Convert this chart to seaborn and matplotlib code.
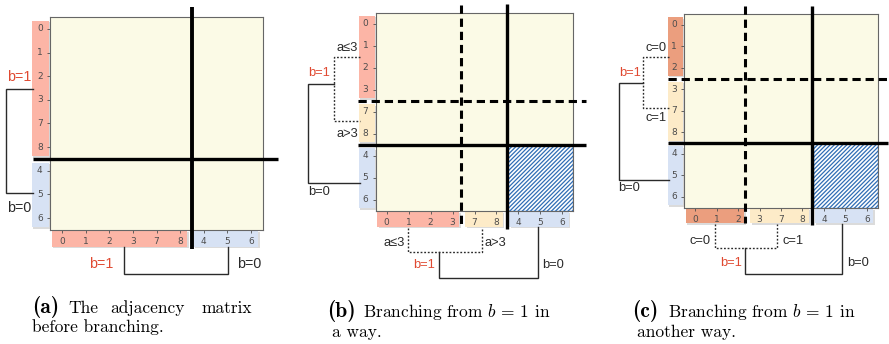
import numpy as np
import pandas as pd
import matplotlib
matplotlib.use("Agg")
import matplotlib.pyplot as plt
import matplotlib.patheffects as pe
from matplotlib.colors import ListedColormap
from matplotlib.patches import Rectangle
import seaborn as sns

plt.rcParams["mathtext.fontset"] = "cm"
plt.rcParams["hatch.linewidth"] = 0.9

# ---------------- data ----------------
node_order = ["0", "1", "2", "3", "7", "8", "4", "5", "6"]
groups_a = [6, 3]
groups_b = [4, 2, 3]
groups_c = [3, 3, 3]
colors_a = ["#fcb5a6", "#d7e2f4"]
colors_b = ["#fcb5a6", "#fdebc8", "#d7e2f4"]
colors_c = ["#eb9e7e", "#fdebc8", "#d7e2f4"]
top_labels = ["b=1", "b=0"]
sub_labels_b = ["a≤3", "a>3"]
sub_labels_c = ["c=0", "c=1"]
caption_tags = ["(a)", "(b)", "(c)"]

# ---------------- style ----------------
MAT_BG = "#fbfae6"
RED = "#e04a32"
DARK = "#2a2a2a"
TICK = "#4d4d4d"
HATCH_BLUE = "#2f6db5"
LBL_FONT = ["Liberation Sans", "DejaVu Sans"]

W, H = 889, 344
fig = plt.figure(figsize=(W / 100, H / 100), dpi=100)


def px_axes(x0, y0, x1, y1):
    return fig.add_axes([x0 / W, 1 - y1 / H, (x1 - x0) / W, (y1 - y0) / H])


def draw_matrix(ax):
    df = pd.DataFrame(np.zeros((len(node_order), len(node_order))),
                      index=node_order, columns=node_order)
    sns.heatmap(df, ax=ax, cmap=ListedColormap([MAT_BG]), vmin=0, vmax=1,
                cbar=False, xticklabels=True, yticklabels=True)
    for s in ax.spines.values():
        s.set_visible(True)
        s.set_linewidth(0.8)
        s.set_color("#666666")
    ax.tick_params(labelsize=6.5, colors=TICK, length=2.5, width=0.6, pad=2.8)
    ax.tick_params(axis="y", rotation=0)
    ax.set_xlabel("")
    ax.set_ylabel("")


def group_bars(ax, groups, colors):
    bounds = np.concatenate([[0], np.cumsum(groups)])
    shadow = [pe.SimplePatchShadow(offset=(1, -1), shadow_rgbFace="#9a9a9a", alpha=0.35),
              pe.Normal()]
    for s, e, c in zip(bounds[:-1], bounds[1:], colors):
        r = Rectangle((-0.76, s + 0.15), 0.72, (e - s) - 0.27, facecolor=c,
                      edgecolor="none", clip_on=False, zorder=0.5)
        r.set_path_effects(shadow)
        ax.add_patch(r)
        r = Rectangle((s + 0.08, 9.04), (e - s) - 0.28, 0.68, facecolor=c,
                      edgecolor="none", clip_on=False, zorder=0.5)
        r.set_path_effects(shadow)
        ax.add_patch(r)
    return bounds


def line(ax, xs, ys, lw=2.4, ls="-"):
    ax.plot(xs, ys, color="black", lw=lw, ls=ls, clip_on=False,
            solid_capstyle="butt", dash_capstyle="butt", zorder=5)


def bracket(ax, pts, dotted=False):
    xs, ys = zip(*pts)
    ax.plot(xs, ys, color=DARK, lw=1.0,
            ls=(0, (1.3, 1.3)) if dotted else "-",
            clip_on=False, solid_joinstyle="miter", zorder=4)


def label(ax, x, y, s, size, ha="left", color=DARK):
    ax.text(x, y, s, ha=ha, va="center", fontsize=size, color=color,
            family=LBL_FONT, clip_on=False)


def hatch_block(ax, start):
    n = len(node_order)
    ax.add_patch(Rectangle((start, start), n - start, n - start, facecolor="white",
                           edgecolor=HATCH_BLUE, hatch="////////", lw=1.0, zorder=3))


# ---------------- panel (a) ----------------
axA = px_axes(50, 17, 263, 230)
draw_matrix(axA)
bA = group_bars(axA, groups_a, colors_a)
line(axA, [-0.72, 9.63], [bA[1], bA[1]], lw=2.4)
line(axA, [bA[1], bA[1]], [-0.42, 9.80], lw=2.8)
bracket(axA, [(-0.7, 3.04), (-1.86, 3.04), (-1.86, 7.44), (-0.7, 7.44)])
label(axA, -1.80, 2.53, top_labels[0], 10.3, color=RED)
label(axA, -1.80, 8.07, top_labels[1], 10.3)
bracket(axA, [(3.13, 9.72), (3.13, 10.86), (7.52, 10.86), (7.52, 9.72)])
label(axA, 2.70, 10.44, top_labels[0], 10.3, ha="right", color=RED)
label(axA, 7.90, 10.44, top_labels[1], 10.3)

# ---------------- panel (b) ----------------
axB = px_axes(375.7, 12.7, 573.3, 211)
draw_matrix(axB)
bB = group_bars(axB, groups_b, colors_b)
hatch_block(axB, bB[2])
line(axB, [-0.8, 9.6], [bB[1], bB[1]], ls=(0, (2.7, 1.6)), lw=2.2)
line(axB, [-0.8, 9.6], [bB[2], bB[2]], lw=2.4)
line(axB, [bB[1] - 0.12, bB[1] - 0.12], [-0.35, 9.74], ls=(0, (2.7, 1.6)), lw=2.2)
line(axB, [bB[2] - 0.03, bB[2] - 0.03], [-0.40, 9.83], lw=2.4)
bracket(axB, [(-0.72, 2.01), (-1.9, 2.01), (-1.9, 4.92), (-0.72, 4.92)], dotted=True)
bracket(axB, [(-1.9, 3.24), (-3.08, 3.24), (-3.08, 7.74), (-0.72, 7.74)])
label(axB, -1.77, 1.60, sub_labels_b[0], 9.3)
label(axB, -1.77, 5.51, sub_labels_b[1], 9.3)
label(axB, -3.06, 2.74, top_labels[0], 9.3, color=RED)
label(axB, -3.06, 8.15, top_labels[1], 9.3)
bracket(axB, [(1.47, 9.79), (1.47, 10.88), (4.83, 10.88), (4.83, 9.79)], dotted=True)
bracket(axB, [(2.88, 10.88), (2.88, 12.06), (7.38, 12.06), (7.38, 9.74)])
label(axB, 1.33, 10.47, sub_labels_b[0], 9.3, ha="right")
label(axB, 4.94, 10.47, sub_labels_b[1], 9.3)
label(axB, 2.70, 11.47, top_labels[0], 9.3, ha="right", color=RED)
label(axB, 7.60, 11.47, top_labels[1], 9.3)

# ---------------- panel (c) ----------------
axC = px_axes(684.3, 14, 877.7, 207.7)
draw_matrix(axC)
bC = group_bars(axC, groups_c, colors_c)
hatch_block(axC, bC[2])
line(axC, [-0.77, 9.5], [bC[1], bC[1]], ls=(0, (2.7, 1.6)), lw=2.2)
line(axC, [-0.77, 9.5], [bC[2], bC[2]], lw=2.4)
line(axC, [bC[1] - 0.17, bC[1] - 0.17], [-0.37, 9.69], ls=(0, (2.7, 1.6)), lw=2.2)
line(axC, [bC[2] - 0.06, bC[2] - 0.06], [-0.37, 9.79], lw=2.4)
bracket(axC, [(-0.7, 1.99), (-1.9, 1.99), (-1.9, 4.36), (-0.7, 4.36)], dotted=True)
bracket(axC, [(-1.9, 3.2), (-3.06, 3.2), (-3.06, 7.7), (-0.7, 7.7)])
label(axC, -1.81, 1.58, sub_labels_c[0], 9.3)
label(axC, -1.81, 4.82, sub_labels_c[1], 9.3)
label(axC, -3.04, 2.74, top_labels[0], 9.3, color=RED)
label(axC, -3.10, 8.07, top_labels[1], 9.3)
bracket(axC, [(1.44, 9.74), (1.44, 10.85), (4.31, 10.85), (4.31, 9.74)], dotted=True)
bracket(axC, [(2.83, 10.85), (2.83, 12.06), (7.33, 12.06), (7.33, 9.74)])
label(axC, 1.24, 10.53, sub_labels_c[0], 9.3, ha="right")
label(axC, 4.59, 10.53, sub_labels_c[1], 9.3)
label(axC, 2.68, 11.55, top_labels[0], 9.3, ha="right", color=RED)
label(axC, 7.56, 11.55, top_labels[1], 9.3)

# ---------------- captions ----------------
CAP = 12.5
TAG = 15.5


def ftext(x, y, s, **kw):
    fig.text(x / W, 1 - y / H, s, va="baseline", **kw)


ftext(31.7, 313.3, caption_tags[0], family="cmb10", fontsize=TAG)
ftext(68, 312.7, "The", family="cmr10", fontsize=CAP)
ftext(110, 312.7, "adjacency", family="cmr10", fontsize=CAP)
ftext(252, 312.7, "matrix", family="cmr10", fontsize=CAP, ha="right")
ftext(32, 331.7, "before branching.", family="cmr10", fontsize=CAP)

ftext(326.7, 317.0, caption_tags[1], family="cmb10", fontsize=TAG)
ftext(363.3, 316.7, r"Branching from $b\,=\,1$ in", family="cmr10", fontsize=CAP)
ftext(332.3, 336.7, "a way.", family="cmr10", fontsize=CAP)

ftext(632, 317.0, caption_tags[2], family="cmb10", fontsize=TAG)
ftext(668, 316.7, r"Branching from $b\,=\,1$ in", family="cmr10", fontsize=CAP)
ftext(637, 336.7, "another way.", family="cmr10", fontsize=CAP)

fig.savefig("out.png", dpi=100)
